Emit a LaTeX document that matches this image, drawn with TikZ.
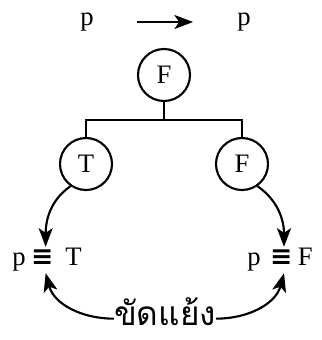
\documentclass[tikz,border=0pt]{standalone}
\usepackage{fontspec}
\setmainfont{Liberation Serif}
\newfontfamily\thaifont[Script=Thai]{Loma}
\newfontfamily\eqvfont{DejaVu Sans}
\newcommand{\eqv}{{\eqvfont\bfseries ≡}}
\usetikzlibrary{positioning, arrows.meta}

\begin{document}
\begin{tikzpicture}[x=0.75pt, y=-0.75pt,
            txt/.style={font=\fontsize{20}{22}\selectfont, inner sep=1pt},
            val/.style={circle, draw=black, line width=1.6pt, minimum size=39pt, inner sep=0pt, font=\fontsize{20}{22}\selectfont},
            branch/.style={line width=1.6pt},
            link/.style={-{Stealth[length=14pt, width=10.5pt, inset=3.5pt]}, line width=1.6pt}
        ]
            \useasboundingbox (0,0) rectangle (322,340);

            % --- top line ---
            \node[txt] (pl) at (87,22) {p};
            \node[txt] (pr) at (244,22) {p};
            \draw[link, shorten <=31pt, shorten >=32pt] (pl) -- (pr);

            % --- tree ---
            \node[val] (root) at (164,75) {F};
            \node[val] (tv) at (86,164) {T};
            \node[val] (fv) at (242,164) {F};
            \draw[branch] (root.south) -- ++(0,18) -| (tv.north);
            \draw[branch] (root.south) -- ++(0,18) -| (fv.north);

            % --- results ---
            \node[txt] (eqt) at (47,260) {p\hspace{4pt}\eqv\hspace{9pt}T};
            \node[txt] (eqf) at (280,260) {p\hspace{7pt}\eqv\hspace{4pt}F};
            \draw[link] (tv.235) to[out=215, in=90] ([xshift=-1pt]eqt.north);
            \draw[link] (fv.305) to[out=-35, in=90] ([xshift=3pt]eqf.north);

            % --- contradiction ---
            \node[txt, inner sep=0pt, font=\fontsize{25}{27}\selectfont] (clash) at (165,312) {\thaifont ขัดแย้ง};
            \draw[link] ([yshift=-5pt]clash.west) to[out=180, in=-75] ([xshift=-1pt]eqt.south);
            \draw[link] ([yshift=-5pt]clash.east) to[out=0, in=-105] ([xshift=3pt]eqf.south);
        \end{tikzpicture}
\end{document}
